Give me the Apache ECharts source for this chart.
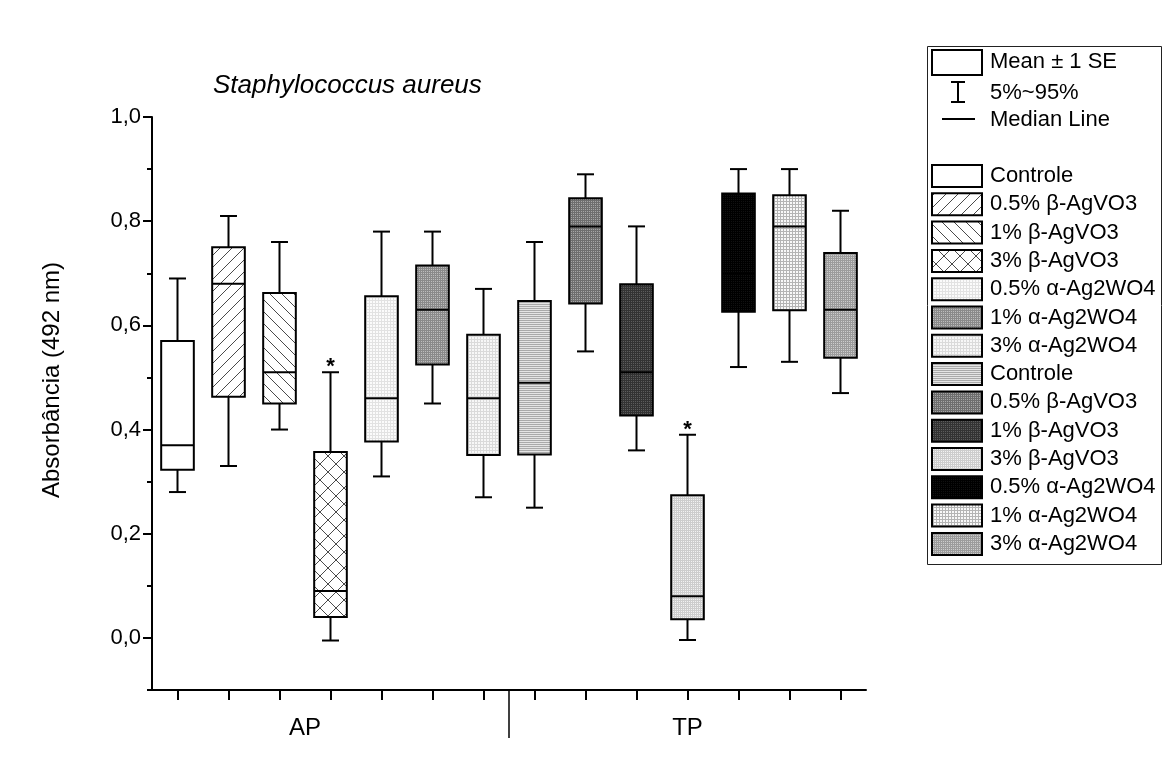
<!DOCTYPE html>
<html>
<head>
<meta charset="utf-8">
<script src="https://cdn.jsdelivr.net/npm/echarts@6/dist/echarts.min.js"></script>
<style>
  html, body { margin: 0; background: #fff; }
  #chart { width: 1163px; height: 781px; }
</style>
</head>
<body>
<div id="chart"></div>
<script>
const groups = ['AP', 'TP'];
const groupLabelPos = [3, 10.5];
const treatments = ['Controle', '0.5% β-AgVO3', '1% β-AgVO3', '3% β-AgVO3', '0.5% α-Ag2WO4', '1% α-Ag2WO4', '3% α-Ag2WO4'];
const categories = groups.flatMap(g => treatments.map(t => g + ' ' + t));
const legendLabels = treatments.concat(treatments);

// 5% / mean-SE / median / mean+SE / 95%
const p5     = [0.28, 0.33, 0.40, -0.005, 0.31, 0.45, 0.27, 0.25, 0.55, 0.36, -0.004, 0.52, 0.53, 0.47];
const seLow  = [0.323, 0.463, 0.45, 0.04, 0.377, 0.525, 0.351, 0.352, 0.642, 0.427, 0.036, 0.626, 0.629, 0.538];
const median = [0.37, 0.68, 0.51, 0.09, 0.46, 0.63, 0.46, 0.49, 0.79, 0.51, 0.08, 0.70, 0.79, 0.63];
const seHigh = [0.57, 0.75, 0.662, 0.357, 0.656, 0.715, 0.582, 0.647, 0.844, 0.679, 0.274, 0.853, 0.85, 0.739];
const p95    = [0.69, 0.81, 0.76, 0.51, 0.78, 0.78, 0.67, 0.76, 0.89, 0.79, 0.39, 0.90, 0.90, 0.82];
const starred = [3, 10];
const yTicks = [0, 0.2, 0.4, 0.6, 0.8, 1.0];

const FONT = "'Liberation Sans', Arial, sans-serif";

// pattern fills
function tile(size, draw) {
  const c = document.createElement('canvas');
  c.width = c.height = size;
  draw(c.getContext('2d'), size);
  return { image: c, repeat: 'repeat' };
}
function hatch(dirs, s) {
  return tile(s, (ctx) => {
    ctx.fillStyle = '#fff';
    ctx.fillRect(0, 0, s, s);
    ctx.strokeStyle = '#4a4a4a';
    ctx.lineWidth = 1;
    ctx.beginPath();
    if (dirs.includes('/')) {
      ctx.moveTo(-1, s + 1); ctx.lineTo(s + 1, -1);
      ctx.moveTo(-1, 1); ctx.lineTo(1, -1);
      ctx.moveTo(s - 1, s + 1); ctx.lineTo(s + 1, s - 1);
    }
    if (dirs.includes('\\')) {
      ctx.moveTo(-1, -1); ctx.lineTo(s + 1, s + 1);
      ctx.moveTo(s - 1, -1); ctx.lineTo(s + 1, 1);
      ctx.moveTo(-1, s - 1); ctx.lineTo(1, s + 1);
    }
    ctx.stroke();
  });
}
function grid(bg, fg, step, mode) {
  return tile(step, (ctx, s) => {
    ctx.fillStyle = bg;
    ctx.fillRect(0, 0, s, s);
    ctx.fillStyle = fg;
    if (mode !== 'v') ctx.fillRect(0, 0, s, 1);
    if (mode !== 'h') ctx.fillRect(0, 0, 1, s);
  });
}
const fills = [
  '#ffffff',
  hatch('/', 12),
  hatch('\\', 12),
  hatch('/\\', 16),
  grid('#fbfbfb', '#e2e2e2', 3),
  grid('#bdbdbd', '#8a8a8a', 2),
  grid('#f7f7f7', '#dadada', 3),
  grid('#e4e4e4', '#a9a9a9', 2, 'h'),
  grid('#a6a6a6', '#6e6e6e', 2),
  grid('#5c5c5c', '#333333', 2),
  grid('#f2f2f2', '#cdcdcd', 2),
  grid('#111111', '#000000', 2),
  grid('#f8f8f8', '#b4b4b4', 3),
  grid('#cdcdcd', '#9c9c9c', 2)
];

const chart = echarts.init(document.getElementById('chart'));

function renderBox(params, api) {
  const i = params.dataIndex;
  const x = api.value(0);
  const cx = api.coord([x, api.value(1)])[0];
  const yLow = api.coord([x, api.value(1)])[1];
  const yQ1 = api.coord([x, api.value(2)])[1];
  const yMed = api.coord([x, api.value(3)])[1];
  const yQ3 = api.coord([x, api.value(4)])[1];
  const yHigh = api.coord([x, api.value(5)])[1];
  const band = api.size([1, 0])[0];
  const bw = band * 0.64, cw = bw * 0.52;
  const ln = { stroke: '#000', lineWidth: 2 };
  const children = [
    { type: 'line', shape: { x1: cx, y1: yHigh, x2: cx, y2: yQ3 }, style: ln },
    { type: 'line', shape: { x1: cx - cw / 2, y1: yHigh, x2: cx + cw / 2, y2: yHigh }, style: ln },
    { type: 'line', shape: { x1: cx, y1: yQ1, x2: cx, y2: yLow }, style: ln },
    { type: 'line', shape: { x1: cx - cw / 2, y1: yLow, x2: cx + cw / 2, y2: yLow }, style: ln },
    { type: 'rect', shape: { x: cx - bw / 2, y: yQ3, width: bw, height: yQ1 - yQ3 },
      style: { fill: fills[i], stroke: '#000', lineWidth: 2 } },
    { type: 'line', shape: { x1: cx - bw / 2, y1: yMed, x2: cx + bw / 2, y2: yMed }, style: ln }
  ];
  if (starred.includes(i)) {
    children.push({ type: 'text', style: { text: '*', x: cx, y: yHigh - 5, align: 'center',
      verticalAlign: 'middle', font: 'bold 22px ' + FONT, fill: '#000' } });
  }
  return { type: 'group', children };
}

// legend drawn as graphic
const legendEls = [
  { type: 'rect', shape: { x: 927.5, y: 46.5, width: 234, height: 518 },
    style: { fill: '#fff', stroke: '#222', lineWidth: 1 } },
  { type: 'rect', shape: { x: 932, y: 50, width: 50, height: 25 }, style: { fill: '#fff', stroke: '#000', lineWidth: 2 } },
  { type: 'line', shape: { x1: 958, y1: 82, x2: 958, y2: 102 }, style: { stroke: '#000', lineWidth: 2 } },
  { type: 'line', shape: { x1: 951, y1: 82, x2: 965, y2: 82 }, style: { stroke: '#000', lineWidth: 2 } },
  { type: 'line', shape: { x1: 951, y1: 102, x2: 965, y2: 102 }, style: { stroke: '#000', lineWidth: 2 } },
  { type: 'line', shape: { x1: 942, y1: 119, x2: 975, y2: 119 }, style: { stroke: '#000', lineWidth: 2 } }
];
[['Mean ± 1 SE', 62], ['5%~95%', 93], ['Median Line', 120]].forEach(([t, y]) => {
  legendEls.push({ type: 'text', style: { text: t, x: 990, y, verticalAlign: 'middle', font: '22px ' + FONT, fill: '#000' } });
});
legendLabels.forEach((t, k) => {
  const yc = 176 + k * 28.3;
  legendEls.push({ type: 'rect', shape: { x: 932, y: yc - 11, width: 50, height: 22 },
    style: { fill: fills[k], stroke: '#000', lineWidth: 2 } });
  legendEls.push({ type: 'text', style: { text: t, x: 990, y: yc, verticalAlign: 'middle', font: '22px ' + FONT, fill: '#000' } });
});

const option = {
  animation: false,
  backgroundColor: '#fff',
  title: {
    text: 'Staphylococcus aureus',
    left: 208,
    top: 68,
    textStyle: { fontFamily: FONT, fontSize: 26, fontStyle: 'italic', fontWeight: 'normal', color: '#000' }
  },
  grid: { left: 152, right: 297, top: 117, bottom: 91 },
  xAxis: [
    {
      type: 'category',
      data: categories,
      axisLine: { onZero: false, lineStyle: { color: '#000', width: 2 } },
      axisTick: { show: true, interval: 0, alignWithLabel: true, length: 10, lineStyle: { color: '#000', width: 2 } },
      axisLabel: { show: true, interval: 0, formatter: () => '' },
      splitLine: { show: false }
    },
    {
      type: 'value',
      min: 0,
      max: categories.length,
      position: 'bottom',
      axisLine: { show: false, onZero: false },
      axisTick: { show: true, customValues: [treatments.length], length: 48, lineStyle: { color: '#000', width: 1.5 } },
      axisLabel: {
        customValues: groupLabelPos,
        formatter: v => groups[Math.floor(v / treatments.length)],
        margin: 26,
        fontFamily: FONT, fontSize: 24, color: '#000'
      },
      splitLine: { show: false }
    }
  ],
  yAxis: [
    {
      type: 'value',
      min: -0.1,
      max: 1.0,
      interval: 0.1,
      axisLine: { show: true, lineStyle: { color: '#000', width: 2 } },
      axisTick: { show: true, length: 5, lineStyle: { color: '#000', width: 2 } },
      axisLabel: { show: false },
      splitLine: { show: false }
    },
    {
      type: 'value',
      min: -0.1,
      max: 1.0,
      position: 'left',
      axisLine: { show: false },
      axisTick: { show: true, customValues: yTicks, length: 9, lineStyle: { color: '#000', width: 2 } },
      axisLabel: {
        customValues: yTicks,
        formatter: v => v.toFixed(1).replace('.', ','),
        margin: 11,
        fontFamily: FONT, fontSize: 22, color: '#000'
      },
      splitLine: { show: false }
    }
  ],
  graphic: [
    { type: 'text', x: 52, y: 380, rotation: Math.PI / 2,
      style: { text: 'Absorbância (492 nm)', align: 'center', verticalAlign: 'middle', font: '24px ' + FONT, fill: '#000' } },
    { type: 'group', children: legendEls }
  ],
  series: [
    {
      type: 'custom',
      xAxisIndex: 0,
      yAxisIndex: 0,
      renderItem: renderBox,
      encode: { x: 0, y: [1, 2, 3, 4, 5] },
      data: categories.map((c, i) => [i, p5[i], seLow[i], median[i], seHigh[i], p95[i]])
    }
  ]
};

chart.setOption(option);
window.addEventListener('resize', () => chart.resize());
</script>
</body>
</html>
